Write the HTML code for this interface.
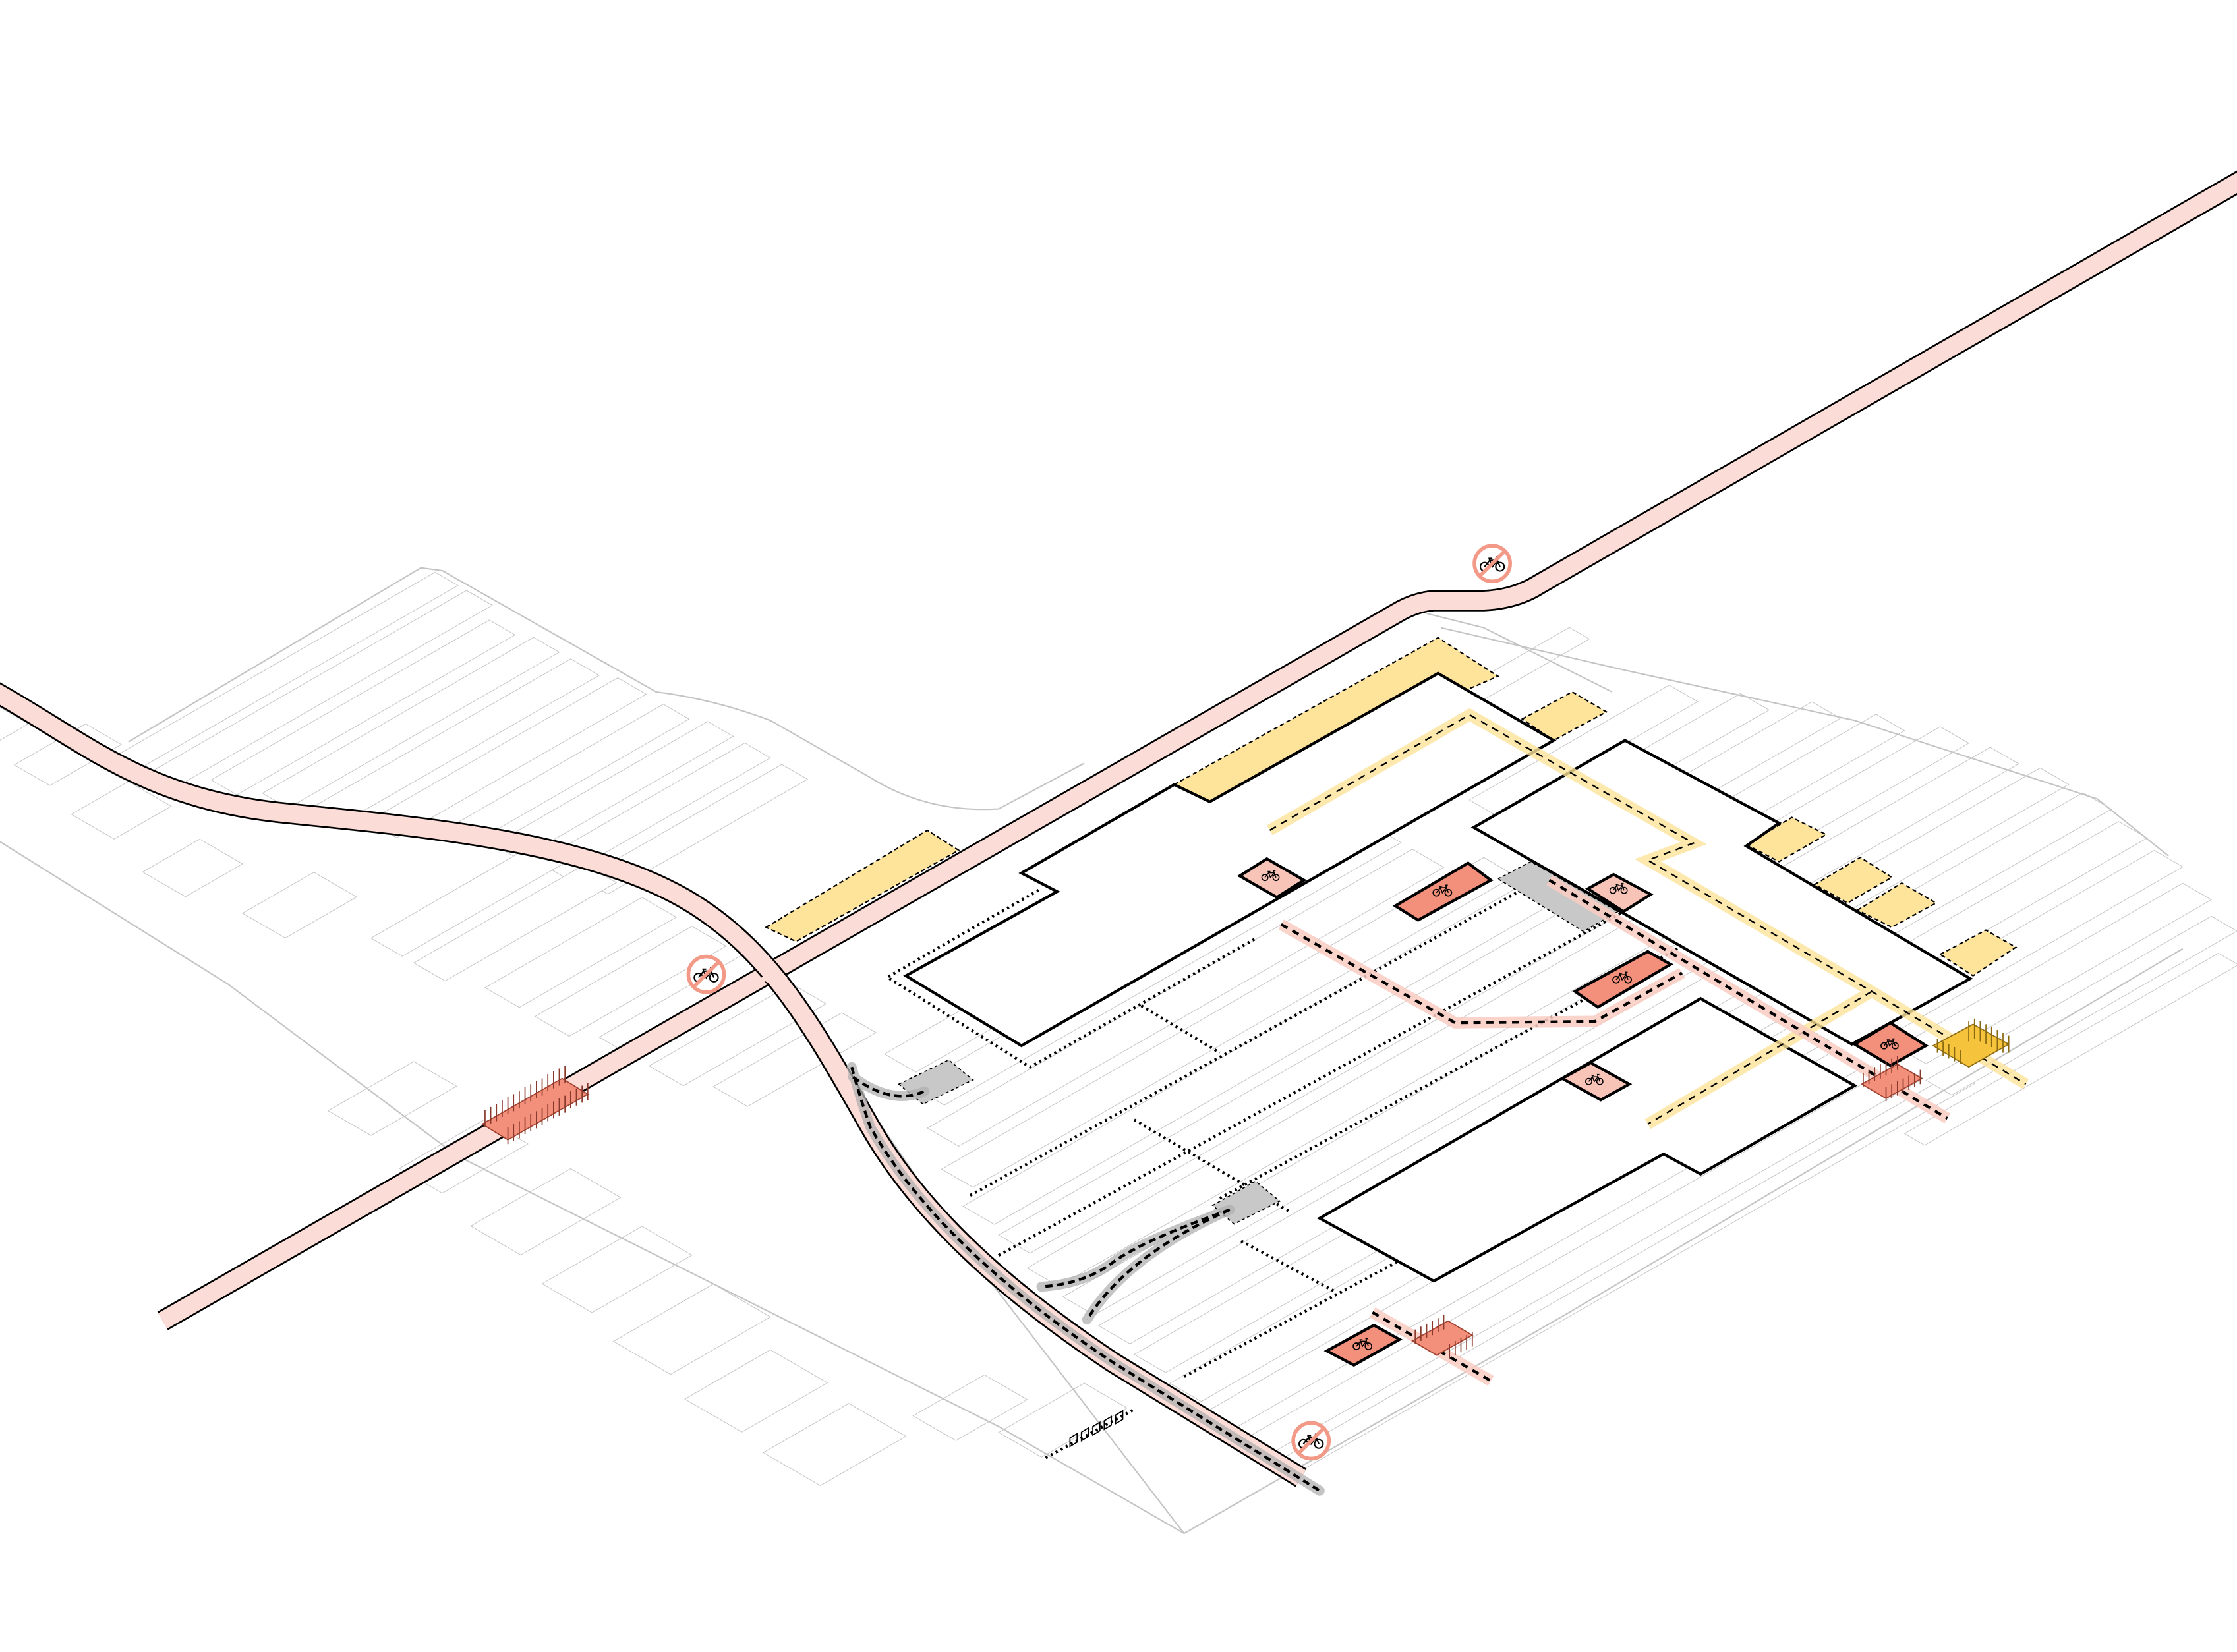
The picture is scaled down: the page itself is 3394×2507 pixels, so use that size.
<!DOCTYPE html>
<html><head><meta charset="utf-8"><style>html,body{margin:0;padding:0;background:#fff}svg{display:block}</style></head>
<body>
<svg width="3394" height="2507" viewBox="0 0 1568 1158" xmlns="http://www.w3.org/2000/svg">
<defs>
<symbol id="bk" viewBox="0 0 20 13">
<g fill="none" stroke="#000" stroke-width="1.1"><circle cx="4" cy="9" r="3.3"/><circle cx="16" cy="9" r="3.3"/><path d="M4,9 L8,4 L14,4 L16,9 M8,4 L10,9 L14,4 M7,2.5 L10,2.5 M8,4 L7.5,2.5 M14,4 L13.5,1.5 L15.5,1.5"/></g>
</symbol>
<g id="nobike"><circle r="12.5" fill="#fff" stroke="#f29a87" stroke-width="2.6"/><use href="#bk" x="-9" y="-6" width="18" height="12"/><line x1="-8" y1="8" x2="8" y2="-8" stroke="#f29a87" stroke-width="2.6"/></g>
</defs>

<g transform="matrix(1,-0.575,1,0.578,0,0)" fill="#fff" stroke="#c4c4c4" stroke-width="1">
<rect x="-420" y="500" width="225" height="16" vector-effect="non-scaling-stroke"/>
<rect x="-415" y="522" width="220" height="18" vector-effect="non-scaling-stroke"/>
<rect x="-400" y="548" width="195" height="18" vector-effect="non-scaling-stroke"/>
<rect x="-390" y="574" width="190" height="18" vector-effect="non-scaling-stroke"/>
<rect x="-380" y="600" width="180" height="20" vector-effect="non-scaling-stroke"/>
<rect x="-370" y="628" width="175" height="20" vector-effect="non-scaling-stroke"/>
<rect x="-345" y="660" width="150" height="18" vector-effect="non-scaling-stroke"/>
<rect x="-340" y="686" width="150" height="18" vector-effect="non-scaling-stroke"/>
<rect x="-335" y="712" width="145" height="18" vector-effect="non-scaling-stroke"/>
<rect x="-330" y="738" width="140" height="18" vector-effect="non-scaling-stroke"/>
<rect x="-470" y="430" width="40" height="20" vector-effect="non-scaling-stroke"/>
<rect x="-460" y="470" width="50" height="25" vector-effect="non-scaling-stroke"/>
<rect x="-470" y="520" width="40" height="30" vector-effect="non-scaling-stroke"/>
<rect x="-480" y="580" width="40" height="30" vector-effect="non-scaling-stroke"/>
<rect x="-470" y="640" width="50" height="30" vector-effect="non-scaling-stroke"/>
<rect x="-440" y="700" width="120" height="22" vector-effect="non-scaling-stroke"/>
<rect x="-440" y="730" width="120" height="22" vector-effect="non-scaling-stroke"/>
<rect x="-430" y="770" width="110" height="24" vector-effect="non-scaling-stroke"/>
<rect x="-430" y="805" width="110" height="24" vector-effect="non-scaling-stroke"/>
<rect x="-420" y="840" width="100" height="24" vector-effect="non-scaling-stroke"/>
<rect x="-420" y="875" width="100" height="24" vector-effect="non-scaling-stroke"/>
<rect x="-410" y="910" width="90" height="24" vector-effect="non-scaling-stroke"/>
<rect x="-560" y="790" width="60" height="30" vector-effect="non-scaling-stroke"/>
<rect x="-570" y="850" width="60" height="30" vector-effect="non-scaling-stroke"/>
<rect x="-580" y="910" width="70" height="35" vector-effect="non-scaling-stroke"/>
<rect x="-590" y="970" width="70" height="35" vector-effect="non-scaling-stroke"/>
<rect x="-600" y="1030" width="70" height="40" vector-effect="non-scaling-stroke"/>
<rect x="-610" y="1090" width="60" height="40" vector-effect="non-scaling-stroke"/>
<rect x="-615" y="1150" width="60" height="40" vector-effect="non-scaling-stroke"/>
<rect x="-540" y="1180" width="50" height="30" vector-effect="non-scaling-stroke"/>
<rect x="-520" y="1220" width="60" height="30" vector-effect="non-scaling-stroke"/>
<rect x="-330" y="950" width="300" height="22" vector-effect="non-scaling-stroke"/>
<rect x="-340" y="980" width="320" height="22" vector-effect="non-scaling-stroke"/>
<rect x="-360" y="1010" width="340" height="22" vector-effect="non-scaling-stroke"/>
<rect x="-380" y="1040" width="380" height="22" vector-effect="non-scaling-stroke"/>
<rect x="-395" y="1070" width="400" height="22" vector-effect="non-scaling-stroke"/>
<rect x="-400" y="1100" width="420" height="22" vector-effect="non-scaling-stroke"/>
<rect x="-410" y="1130" width="430" height="22" vector-effect="non-scaling-stroke"/>
<rect x="-415" y="1160" width="440" height="22" vector-effect="non-scaling-stroke"/>
<rect x="-420" y="1190" width="440" height="22" vector-effect="non-scaling-stroke"/>
<rect x="-425" y="1220" width="440" height="22" vector-effect="non-scaling-stroke"/>
<rect x="-430" y="1250" width="440" height="22" vector-effect="non-scaling-stroke"/>
<rect x="-435" y="1280" width="440" height="20" vector-effect="non-scaling-stroke"/>
<rect x="-440" y="1310" width="460" height="18" vector-effect="non-scaling-stroke"/>
<rect x="-445" y="1335" width="480" height="14" vector-effect="non-scaling-stroke"/>
<rect x="30" y="1000" width="140" height="20" vector-effect="non-scaling-stroke"/>
<rect x="40" y="1030" width="150" height="20" vector-effect="non-scaling-stroke"/>
<rect x="50" y="1060" width="160" height="20" vector-effect="non-scaling-stroke"/>
<rect x="55" y="1090" width="170" height="20" vector-effect="non-scaling-stroke"/>
<rect x="60" y="1120" width="180" height="20" vector-effect="non-scaling-stroke"/>
<rect x="60" y="1150" width="185" height="20" vector-effect="non-scaling-stroke"/>
<rect x="60" y="1180" width="190" height="20" vector-effect="non-scaling-stroke"/>
<rect x="60" y="1210" width="190" height="20" vector-effect="non-scaling-stroke"/>
<rect x="55" y="1240" width="190" height="20" vector-effect="non-scaling-stroke"/>
<rect x="40" y="1270" width="200" height="20" vector-effect="non-scaling-stroke"/>
<rect x="30" y="1300" width="200" height="20" vector-effect="non-scaling-stroke"/>
<rect x="20" y="1330" width="200" height="18" vector-effect="non-scaling-stroke"/>
<rect x="-20" y="1355" width="220" height="14" vector-effect="non-scaling-stroke"/>
<rect x="-60" y="930" width="230" height="14" vector-effect="non-scaling-stroke"/>
</g>
<g fill="none" stroke="#c4c4c4" stroke-width="1">
<path d="M90,520 L295,398 L310,400 L460,485 Q500,490 540,505 L610,545 Q650,570 700,567 L760,535"/>
<path d="M1000,430 L1040,440 L1130,485"/>
<path d="M560,705 L680,880 L830,1075 L1100,920 L1530,665"/>
<path d="M0,590 L160,690 L320,810 L560,930 L700,1000 L830,1075"/>
<path d="M1010,440 L1140,470 L1300,505 L1470,560 L1520,600"/>
</g>

<g fill="#fde49a" stroke="#000" stroke-width="1" stroke-dasharray="3 2">
<polygon points="537,650 650,582 672,596 558,660"/>
<polygon points="823,550 1008,447 1050,474 848,562"/>
<polygon points="1067,504 1102,485 1126,499 1089,519"/>
<polygon points="1224,592 1256,573 1280,585 1247,604"/>
<polygon points="1272,620 1304,601 1326,615 1295,633"/>
<polygon points="1302,638 1333,619 1357,633 1326,650"/>
<polygon points="1360,669 1392,652 1413,664 1383,684"/>
</g>

<path d="M1575,124 L1078,410 Q1062,420 1040,421 L1005,421 Q993,422 982,428 L114,926" fill="none" stroke="#000" stroke-width="15"/>
<path d="M1575,124 L1078,410 Q1062,420 1040,421 L1005,421 Q993,422 982,428 L114,926" fill="none" stroke="#fbdcd6" stroke-width="12.5"/>
<path d="M-5,484 C60,520 100,560 200,570 C300,580 410,590 480,630 C540,665 570,720 610,790 C650,860 720,915 780,955 L912,1036" fill="none" stroke="#000" stroke-width="15"/>
<path d="M-5,484 C60,520 100,560 200,570 C300,580 410,590 480,630 C540,665 570,720 610,790 C650,860 720,915 780,955 L912,1036" fill="none" stroke="#fbdcd6" stroke-width="12.5"/>
<polygon points="540,679 552,685 544,692 533,686" fill="#fbdcd6"/>

<g fill="none" stroke="#000" stroke-width="2" stroke-dasharray="1.5 2.5">
<path d="M728,624 L622,685 L722,748 L880,658"/>
<path d="M800,705 L855,738"/>
<path d="M680,838 L1088,612"/>
<path d="M700,880 L1140,638"/>
<path d="M795,785 L905,850 M870,870 L935,905"/>
<path d="M830,965 L1010,868"/>
<path d="M855,840 L1185,660"/>
<path d="M733,1022 L795,988"/>
</g>

<g fill="#c8c8c8" stroke="#000" stroke-width="0.8" stroke-dasharray="2 2">
<polygon points="630,760 665,743 682,757 647,774"/>
<polygon points="850,845 880,828 897,842 865,858"/>
<polygon points="1050,616 1073,604 1134,639 1110,653"/>
</g>

<g fill="#fff" stroke="#000" stroke-width="2">
<polygon points="823,550 848,562 1008,472 1089,519 716,733 635,684 741,625 716,612"/>
<polygon points="1033,580 1139,519 1247,577 1224,593 1381,686 1298,732"/>
<polygon points="925,854 1192,700 1300,761 1192,823 1166,809 1005,898"/>
</g>

<g fill="none">
<path d="M890,582 L1030,501 L1187,591 L1155,603 L1312,695 L1420,760 M1312,695 L1155,788" stroke="#fde49a" stroke-width="8" opacity="0.8"/>
<path d="M890,582 L1030,501 L1187,591 L1155,603 L1312,695 L1420,760 M1312,695 L1155,788" stroke="#000" stroke-width="1.1" stroke-dasharray="5 4"/>
<path d="M898,648 L1020,717 L1118,716 L1179,682 M1086,617 L1365,784 M962,920 L1045,968" stroke="#f9cbc2" stroke-width="8" opacity="0.85"/>
<path d="M898,648 L1020,717 L1118,716 L1179,682 M1086,617 L1365,784 M962,920 L1045,968" stroke="#000" stroke-width="2" stroke-dasharray="5 4"/>
<path d="M597,748 Q603,770 610,790 C650,860 720,915 780,955 L925,1045 M598,755 Q625,775 648,765 M862,848 Q800,870 780,885 Q760,900 730,902 M862,848 Q790,880 762,925" stroke="#b0b0b0" stroke-width="7" stroke-linecap="round" opacity="0.75"/>
<path d="M597,748 Q603,770 610,790 C650,860 720,915 780,955 L925,1045 M598,755 Q625,775 648,765 M862,848 Q800,870 780,885 Q760,900 730,902 M862,848 Q790,880 762,925" stroke="#000" stroke-width="2" stroke-dasharray="5 3"/>
</g>

<g stroke="#000" stroke-width="2">
<polygon points="869,614 888,602 914,617 895,629" fill="#f9c4b8"/>
<polygon points="1113,623 1131,613 1157,627 1138,639" fill="#f9c4b8"/>
<polygon points="1095,756 1115,745 1142,760 1122,771" fill="#f9c4b8"/>
<polygon points="978,635 1029,605 1045,617 994,645" fill="#f3907c"/>
<polygon points="1104,695 1155,667 1171,676 1120,706" fill="#f3907c"/>
<polygon points="1300,732 1325,717 1350,733 1325,747" fill="#f3907c"/>
<polygon points="930,947 963,929 981,939 949,957" fill="#f3907c"/>
</g>
<use href="#bk" x="884" y="609" width="13" height="9"/>
<use href="#bk" x="1128" y="618" width="13" height="9"/>
<use href="#bk" x="1111" y="752" width="13" height="9"/>
<use href="#bk" x="1004" y="619" width="14" height="10"/>
<use href="#bk" x="1130" y="680" width="14" height="10"/>
<use href="#bk" x="1318" y="727" width="13" height="9"/>
<use href="#bk" x="948" y="937" width="14" height="10"/>

<polygon points="338,788 394,756 412,767 356,799" fill="#f3907c" stroke="#a0402f" stroke-width="0.8"/>
<path d="M340,778v12 M344,776v12 M348,774v12 M352,771v12 M356,769v12 M360,767v12 M364,765v12 M368,762v12 M372,760v12 M376,758v12 M380,756v12 M384,753v12 M388,751v12 M392,749v12 M396,747v12 M356,790v12 M360,788v12 M364,786v12 M368,783v12 M372,781v12 M376,779v12 M380,777v12 M384,774v12 M388,772v12 M392,770v12 M396,768v12 M400,765v12 M404,763v12 M408,761v12 M412,759v12" stroke="#8a3a2c" stroke-width="0.8"/>
<polygon points="1305,760 1330,746 1347,756 1322,770" fill="#f3907c" stroke="#a0402f" stroke-width="0.8"/>
<path d="M1306,752v10 M1310,750v10 M1314,748v10 M1318,746v10 M1322,744v10 M1326,742v10 M1330,740v10 M1322,762v10 M1326,760v10 M1330,758v10 M1334,756v10 M1338,754v10 M1342,752v10 M1346,750v10" stroke="#8a3a2c" stroke-width="0.8"/>
<polygon points="990,940 1015,926 1032,936 1007,950" fill="#f3907c" stroke="#a0402f" stroke-width="0.8"/>
<path d="M992,932v10 M996,930v10 M1000,928v10 M1004,926v10 M1008,924v10 M1012,922v10 M1016,942v10 M1020,940v10 M1024,938v10 M1028,936v10 M1032,934v10" stroke="#8a3a2c" stroke-width="0.8"/>
<polygon points="1355,733 1383,718 1408,732 1380,748" fill="#f6c33c" stroke="#8a6a10" stroke-width="0.8"/>
<path d="M1380,716v14 M1384,714v14 M1388,716v14 M1392,718v14 M1396,720v14 M1400,722v14 M1404,724v14 M1408,726v12 M1358,728v10 M1362,730v10 M1366,732v10 M1370,734v10 M1374,736v10" stroke="#8a6a10" stroke-width="0.8"/>
<path d="M750,1008 l5,-3 v6 l-5,3z M758,1004 l5,-3 v6 l-5,3z M766,1000 l5,-3 v6 l-5,3z M774,996 l5,-3 v6 l-5,3z M782,992 l5,-3 v6 l-5,3z" stroke="#000" stroke-width="0.8" fill="none"/>

<use href="#nobike" x="1046" y="395"/>
<use href="#nobike" x="495" y="683"/>
<use href="#nobike" x="919" y="1010"/>
</svg>
</body></html>
